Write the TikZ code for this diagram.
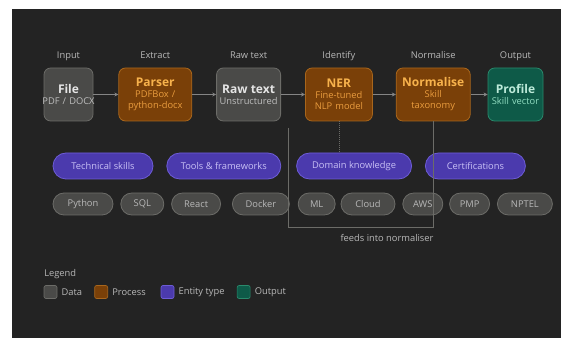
\documentclass[tikz,border=0pt]{standalone}
\usepackage{fontspec}
\setmainfont{Open Sans}
\usetikzlibrary{arrows.meta,positioning}
\usepackage{xcolor}
\definecolor{canvas}{HTML}{232323}
\definecolor{datafill}{HTML}{4A4A48}
\definecolor{dataline}{HTML}{6C6C68}
\definecolor{datatext}{HTML}{BEBEBE}
\definecolor{proctfill}{HTML}{7A4008}
\definecolor{procline}{HTML}{A8661C}
\definecolor{proctext}{HTML}{E99C3E}
\definecolor{proctitle}{HTML}{F7B24C}
\definecolor{outfill}{HTML}{0E5A48}
\definecolor{outline}{HTML}{2A8A6C}
\definecolor{outtext}{HTML}{8FDCC0}
\definecolor{entfill}{HTML}{4B3AAD}
\definecolor{entline}{HTML}{6D5CD6}
\definecolor{enttext}{HTML}{C8C0F5}
\definecolor{softgrey}{HTML}{B8B8B8}
\definecolor{wiregrey}{HTML}{858585}
\newcommand{\stagetitle}[1]{{\fontsize{9}{11}\selectfont\bfseries #1}}
\newcommand{\wideline}[1]{\makebox[\linewidth]{#1}}

\begin{document}
\begin{tikzpicture}[x=0.75pt, y=-0.75pt,
  every node/.style={font=\fontsize{7}{8.25}\selectfont},
  stage/.style={rectangle, rounded corners=5pt, draw, line width=0.6pt,
                minimum height=39.75pt, align=center, inner xsep=0.5pt, inner ysep=1pt},
  datastage/.style={stage, fill=datafill, draw=dataline, text=datatext},
  procstage/.style={stage, fill=proctfill, draw=procline, text=proctext},
  outstage/.style={stage, fill=outfill, draw=outline, text=outtext},
  steplabel/.style={text=softgrey, inner sep=0pt, text height=6pt, text depth=1.5pt},
  entpill/.style={rectangle, rounded corners=9.75pt, draw=entline, fill=entfill,
                  text=enttext, line width=0.6pt, minimum height=19.5pt, inner sep=2pt},
  tagpill/.style={rectangle, rounded corners=8.25pt, draw=dataline, fill=datafill,
                  text=softgrey, line width=0.6pt, minimum height=16.5pt, inner sep=2pt},
  arr/.style={-{Stealth[length=3pt, width=3pt]}, line width=0.5pt, wiregrey},
  feed/.style={line width=0.5pt, draw=dataline},
  legbox/.style={rectangle, rounded corners=1.5pt, minimum size=9.75pt, inner sep=0pt, line width=0.5pt},
  legtext/.style={text=softgrey, inner xsep=0pt},
]

% canvas
\fill[white] (0,0) rectangle (561,338);
\fill[canvas] (12,9) rectangle (561,338);
\useasboundingbox (0,0) rectangle (561,338);

% pipeline
\node[datastage, text width=35.75pt] (file) at (68.5,94.5)
  {{\color{white!90!black}\stagetitle{File}}\\\wideline{PDF / DOCX}};
\node[procstage, text width=53.75pt, right=18.75pt of file] (parser)
  {{\color{proctitle}\stagetitle{Parser}}\\PDFBox /\\\wideline{python-docx}};
\node[datastage, text width=47pt, right=18pt of parser] (raw)
  {{\color{white!90!black}\stagetitle{Raw text}}\\\wideline{Unstructured}};
\node[procstage, text width=49.25pt, right=18pt of raw] (ner)
  {{\color{proctitle}\stagetitle{NER}}\\Fine-tuned\\NLP model};
\node[procstage, text width=54.5pt, right=17.25pt of ner] (norm)
  {{\color{proctitle}\stagetitle{Normalise}}\\Skill\\taxonomy};
\node[outstage, text width=40.25pt, right=12.75pt of norm] (profile)
  {{\color{outtext!60!white}\stagetitle{Profile}}\\\wideline{Skill vector}};

\node[steplabel, above=5pt of file] (lblinput) {Input};
\node[steplabel, above=5pt of parser] (lblextract) {Extract};
\node[steplabel, above=5pt of raw] (lblraw) {Raw text};
\node[steplabel, above=5pt of ner] (lblidentify) {Identify};
\node[steplabel, above=5pt of norm] (lblnormalise) {Normalise};
\node[steplabel, above=5pt of profile] (lbloutput) {Output};

\draw[arr] (file) -- (parser);
\draw[arr] (parser) -- (raw);
\draw[arr] (raw) -- (ner);
\draw[arr] (ner) -- (norm);
\draw[arr] (norm) -- (profile);

% entity types
\node[entpill, minimum width=75pt] (technical) at (103,166) {Technical skills};
\node[entpill, minimum width=85.5pt, right=9.75pt of technical] (tools) {Tools \& frameworks};
\node[entpill, minimum width=86.25pt, right=11.25pt of tools] (domain) {Domain knowledge};
\node[entpill, minimum width=75pt, right=9.75pt of domain] (certs) {Certifications};

% example entities
\node[tagpill, minimum width=45pt] (python) at (83,204) {Python};
\node[tagpill, minimum width=32.25pt, right=5.25pt of python] (sql) {SQL};
\node[tagpill, minimum width=36.75pt, right=5.25pt of sql] (react) {React};
\node[tagpill, minimum width=42.75pt, right=8.25pt of react] (docker) {Docker};
\node[tagpill, minimum width=27.75pt, right=6pt of docker] (ml) {ML};
\node[tagpill, minimum width=40.5pt, right=3.75pt of ml] (cloud) {Cloud};
\node[tagpill, minimum width=30pt, right=5.25pt of cloud] (aws) {AWS};
\node[tagpill, minimum width=30pt, right=4.5pt of aws] (pmp) {PMP};
\node[tagpill, minimum width=41.25pt, right=5.25pt of pmp] (nptel) {NPTEL};

% links back to the pipeline
\draw[feed, densely dotted] (ner.south) -- (ner.south |- domain.north);
\coordinate (feedstart) at (288,128);
\coordinate (feedbase) at (288,227);
\draw[feed] (feedstart) -- (feedbase) -| (norm.south);
\node[text=softgrey] (feedlabel) at (387,238) {feeds into normaliser};

% legend
\node[legtext, anchor=west] (legend) at (44,274) {Legend};
\node[legbox, fill=datafill, draw=dataline] (legdata) at (50.5,292) {};
\node[legtext, right=3pt of legdata] (legdatatext) {Data};
\node[legbox, fill=proctfill, draw=procline, right=9pt of legdatatext] (legproc) {};
\node[legtext, right=3pt of legproc] (legproctext) {Process};
\node[legbox, fill=entfill, draw=entline, right=11pt of legproctext] (legent) {};
\node[legtext, right=3pt of legent] (legenttext) {Entity type};
\node[legbox, fill=outfill, draw=outline, right=9pt of legenttext] (legout) {};
\node[legtext, right=3pt of legout] (legouttext) {Output};

\end{tikzpicture}
\end{document}
